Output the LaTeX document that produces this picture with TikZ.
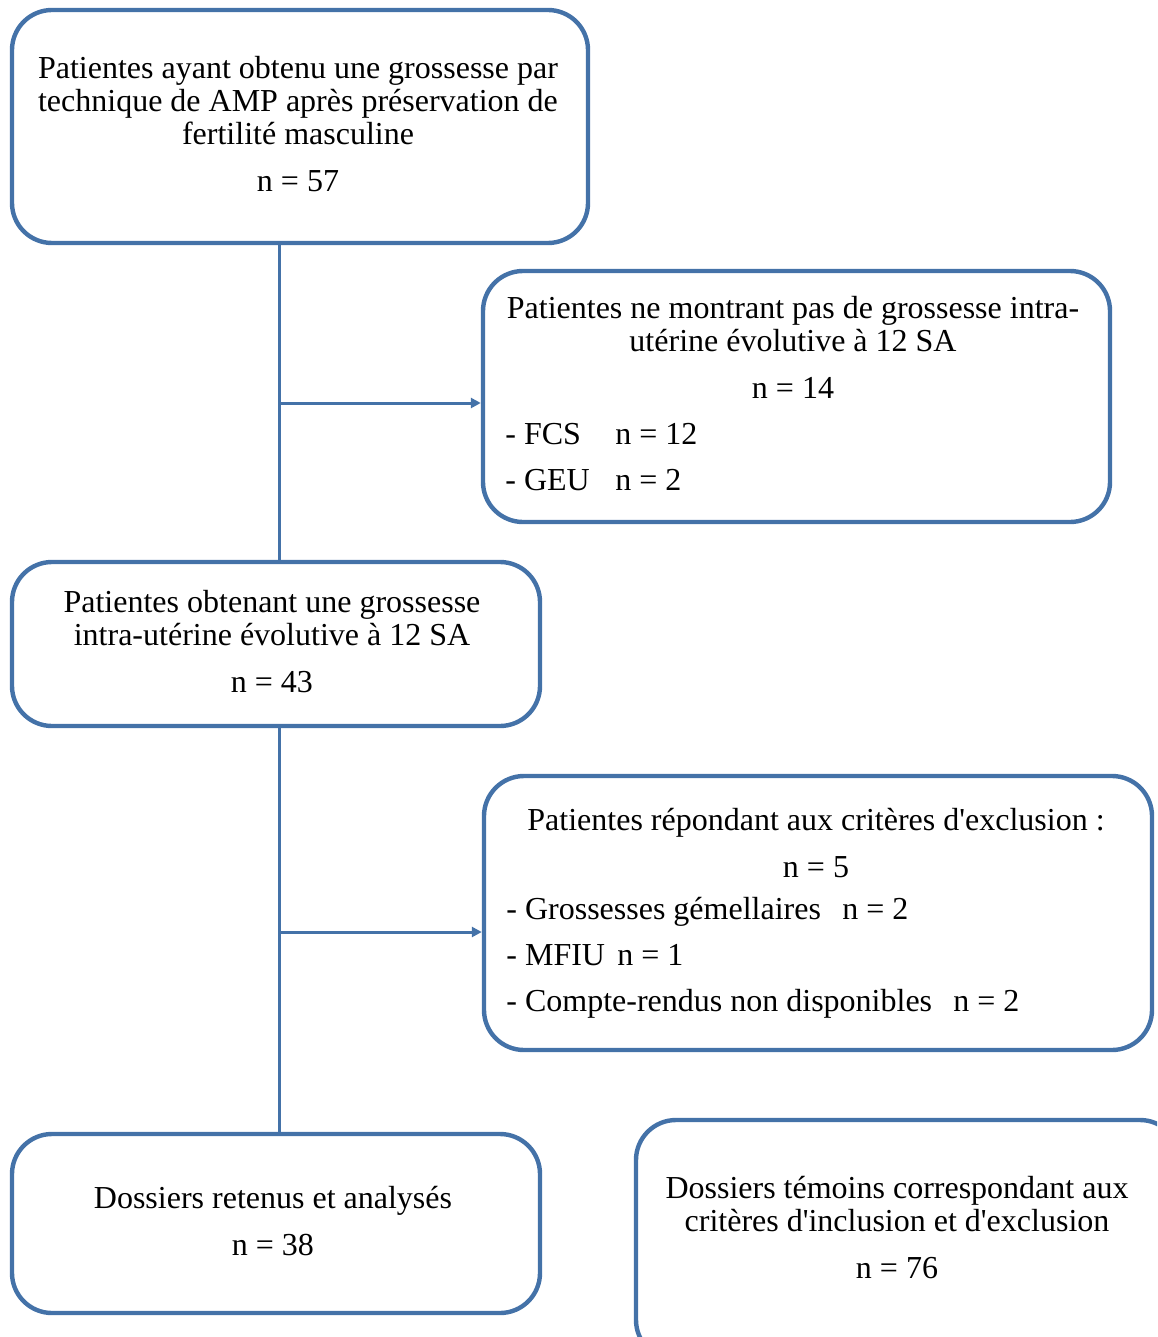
\documentclass[tikz,border=0pt]{standalone}
\usepackage{fontspec}
\setmainfont{Liberation Serif}
\usetikzlibrary{fit,arrows.meta}
\definecolor{flowblue}{RGB}{68,114,168}
\begin{document}
\begin{tikzpicture}[x=0.5pt,y=-0.5pt,
  box/.style={draw=flowblue,line width=2.2pt,rounded corners=20pt,inner sep=0pt},
  txt/.style={font=\fontsize{16}{16.5}\selectfont,align=center,inner sep=0pt},
  lst/.style={font=\fontsize{16}{23}\selectfont,align=left,inner sep=0pt,anchor=west},
  link/.style={draw=flowblue,line width=1.5pt}]
\useasboundingbox (0,0) rectangle (1157,1337);
\clip (0,0) rectangle (1157,1337);
% boxes
\node[box,fit={(12,10) (588,243)}] (top) {};
\node[box,fit={(483,271) (1110,522)}] (ex1) {};
\node[box,fit={(12,562) (540,726)}] (mid) {};
\node[box,fit={(484,776) (1152,1050)}] (ex2) {};
\node[box,fit={(12,1134) (540,1313)}] (res) {};
\node[box,fit={(636,1120) (1180,1360)}] (ctl) {};
% texts
\node[txt] (topt) at (298,124) {Patientes ayant obtenu une grossesse par\\technique de AMP après préservation de\\fertilité masculine\\[7pt]n = 57};
\node[txt] (ex1t) at (793,347) {Patientes ne montrant pas de grossesse intra-\\utérine évolutive à 12 SA\\[7pt]n = 14};
\node[lst] (ex1l) at (505,457) {\makebox[55pt][l]{- FCS}n = 12\\\makebox[55pt][l]{- GEU}n = 2};
\node[txt] (midt) at (272,642) {Patientes obtenant une grossesse\\intra-utérine évolutive à 12 SA\\[7pt]n = 43};
\node[txt] (ex2t) at (816,843) {Patientes répondant aux critères d\textquotesingle exclusion :\\[7pt]n = 5};
\node[lst] (ex2l) at (506,958) {\makebox[168pt][l]{- Grossesses gémellaires}n = 2\\\makebox[55.5pt][l]{- MFIU}n = 1\\\makebox[223.5pt][l]{- Compte-rendus non disponibles}n = 2};
\node[txt] (rest) at (273,1221) {Dossiers retenus et analysés\\[7pt]n = 38};
\node[txt] (ctlt) at (897,1228) {Dossiers témoins correspondant aux\\critères d\textquotesingle inclusion et d\textquotesingle exclusion\\[7pt]n = 76};
% connectors
\coordinate (j1) at (279,403);
\coordinate (j2) at (279,932);
\draw[link] (top.south -| j1) -- (mid.north -| j1);
\draw[link] (mid.south -| j2) -- (res.north -| j2);
\draw[link,-{Triangle[length=5pt,width=5pt]}] (j1) -- (ex1.west |- j1);
\draw[link,-{Triangle[length=5pt,width=5pt]}] (j2) -- (ex2.west |- j2);
\end{tikzpicture}
\end{document}
